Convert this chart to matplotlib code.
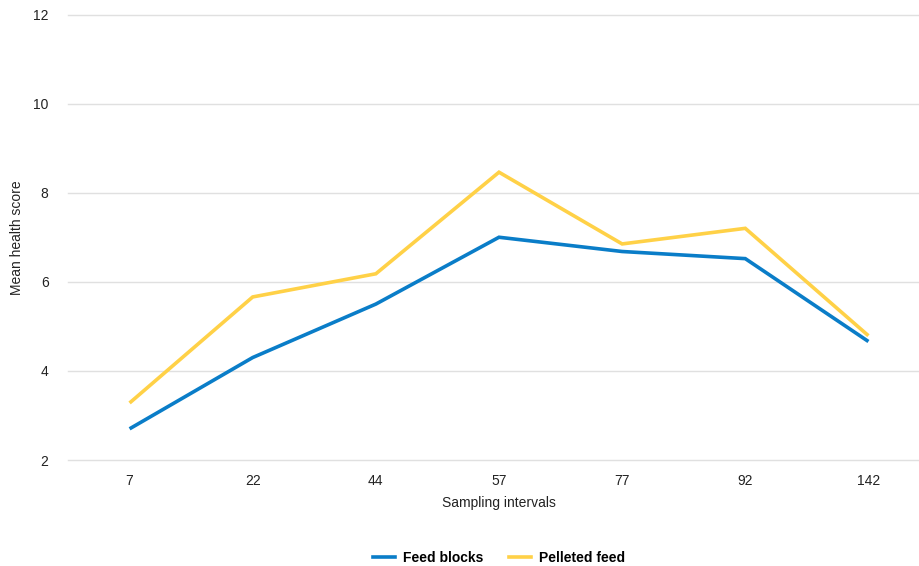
import matplotlib
matplotlib.use("Agg")
import matplotlib.pyplot as plt
from matplotlib.lines import Line2D

plt.rcParams['font.family'] = ['Liberation Sans', 'DejaVu Sans']

categories = ["7", "22", "44", "57", "77", "92", "142"]
feed_blocks = [2.7, 4.3, 5.5, 7.0, 6.68, 6.52, 4.66]
pelleted_feed = [3.28, 5.66, 6.18, 8.46, 6.85, 7.2, 4.79]
y_ticks = [2, 4, 6, 8, 10, 12]

W, H = 919, 566
fig = plt.figure(figsize=(W / 100, H / 100), dpi=100)
left, right, top, bottom = 68, 930, 14.5, 460
ax = fig.add_axes([left / W, 1 - bottom / H, (right - left) / W, (bottom - top) / H])

x = list(range(len(categories)))
blue = "#0a7dc8"
yellow = "#ffd147"
ax.plot(x, feed_blocks, color=blue, lw=2.6, solid_capstyle="butt", solid_joinstyle="miter", zorder=3, clip_on=False)
ax.plot(x, pelleted_feed, color=yellow, lw=2.6, solid_capstyle="butt", solid_joinstyle="miter", zorder=3, clip_on=False)

ax.set_xlim(-0.5, 6.5)
ax.set_ylim(2, 12)
ax.set_yticks(y_ticks)
ax.set_yticklabels([str(t) for t in y_ticks])
ax.set_xticks(x)
ax.set_xticklabels(categories)
for t in y_ticks:
    ax.axhline(t, color="#e0e0e0", lw=1, zorder=1, clip_on=False)
for s in ax.spines.values():
    s.set_visible(False)
ax.tick_params(axis="y", length=0, pad=14, labelsize=10, labelcolor="#222222")
ax.tick_params(axis="x", length=0, pad=10, labelsize=10, labelcolor="#222222")
ax.set_xlabel("Sampling intervals", fontsize=10, labelpad=6, color="#222222")
ax.yaxis.set_label_coords(-44 / (right - left), 0.5)
ax.set_ylabel("Mean health score", fontsize=10, color="#222222")

handles = [Line2D([], [], color=blue, lw=2.6), Line2D([], [], color=yellow, lw=2.6)]
fig.legend(handles, ["Feed blocks", "Pelleted feed"], loc="center", bbox_to_anchor=(0.543, 8 / H),
           ncol=2, frameon=False, prop={"weight": "bold", "size": 10}, handlelength=1.6,
           handletextpad=0.6, columnspacing=1.8)

fig.savefig("out.png", dpi=100)
